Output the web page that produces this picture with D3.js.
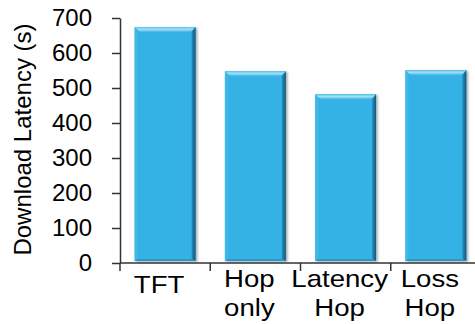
<!DOCTYPE html>
<html>
<head>
<meta charset="utf-8">
<script src="https://cdn.jsdelivr.net/npm/d3@7/dist/d3.min.js"></script>
<style>
  html, body { margin: 0; padding: 0; background: #fff; }
  svg { display: block; }
  text { font-family: "Liberation Sans", Arial, sans-serif; fill: #000; }
</style>
</head>
<body>
<svg id="chart" width="475" height="324"></svg>
<script>
// Download latency per configuration
const categories = [["TFT"], ["Hop", "only"], ["Latency", "Hop"], ["Loss", "Hop"]];
const latency = [674, 548, 482, 551];
const yTicks = [0, 100, 200, 300, 400, 500, 600, 700];
const yTitle = "Download Latency (s)";

const W = 475, H = 324;
const margin = { left: 120, top: 18, bottom: 61 };
const plotRight = 481;

const svg = d3.select("#chart");
const keys = categories.map(c => c.join(" "));

const x = d3.scaleBand()
  .domain(keys)
  .range([margin.left, plotRight])
  .paddingInner(0.325)
  .paddingOuter(0.1625);

const y = d3.scaleLinear()
  .domain([0, 700])
  .range([H - margin.bottom, margin.top]);

// Gradients and shadow used by the bevelled bars
const defs = svg.append("defs");
const topGrad = defs.append("linearGradient").attr("id", "bevelTop").attr("x1", 0).attr("y1", 0).attr("x2", 0).attr("y2", 1);
topGrad.append("stop").attr("offset", "0%").attr("stop-color", "#5cc4ec");
topGrad.append("stop").attr("offset", "45%").attr("stop-color", "#a3def5");
topGrad.append("stop").attr("offset", "100%").attr("stop-color", "#3db5e6");
const rightGrad = defs.append("linearGradient").attr("id", "bevelRight").attr("x1", 0).attr("y1", 0).attr("x2", 1).attr("y2", 0);
rightGrad.append("stop").attr("offset", "0%").attr("stop-color", "#2690c0");
rightGrad.append("stop").attr("offset", "100%").attr("stop-color", "#15577a");
const shadow = defs.append("filter").attr("id", "barShadow").attr("x", "-20%").attr("y", "-20%").attr("width", "140%").attr("height", "140%");
shadow.append("feDropShadow").attr("dx", 1.5).attr("dy", 1).attr("stdDeviation", 1.2).attr("flood-color", "#000").attr("flood-opacity", 0.35);

// Bars
const bevel = 5;
const bars = svg.append("g").attr("class", "bars")
  .selectAll("g").data(latency).join("g")
  .attr("filter", "url(#barShadow)");

bars.each(function (v, i) {
  const g = d3.select(this);
  const x0 = x(keys[i]), x1 = x0 + x.bandwidth();
  const y0 = y(v), y1 = y(0) - 2;
  g.append("rect").attr("x", x0).attr("y", y0).attr("width", x1 - x0).attr("height", y1 - y0).attr("fill", "#36b2e5");
  // top bevel
  g.append("polygon").attr("fill", "url(#bevelTop)")
    .attr("points", [[x0, y0], [x1, y0], [x1 - bevel, y0 + bevel], [x0 + bevel, y0 + bevel]].join(" "));
  // left bevel
  g.append("polygon").attr("fill", "#40b9e9")
    .attr("points", [[x0, y0], [x0 + bevel * 0.6, y0 + bevel], [x0 + bevel * 0.6, y1 - 2], [x0, y1]].join(" "));
  // right bevel
  g.append("polygon").attr("fill", "url(#bevelRight)")
    .attr("points", [[x1, y0], [x1, y1], [x1 - bevel * 0.8, y1 - 2], [x1 - bevel * 0.8, y0 + bevel]].join(" "));
  // bottom bevel
  g.append("polygon").attr("fill", "#2a98c9")
    .attr("points", [[x0, y1], [x1, y1], [x1 - bevel * 0.8, y1 - 2], [x0 + bevel * 0.6, y1 - 2]].join(" "));
});

// Y axis
const yAxis = svg.append("g")
  .attr("transform", `translate(${margin.left},0)`)
  .call(d3.axisLeft(y).tickValues(yTicks).tickSize(8).tickSizeOuter(0).tickPadding(20));
yAxis.select(".domain").attr("stroke", "#333").attr("stroke-width", 1.5);
yAxis.selectAll(".tick line").attr("stroke", "#333").attr("stroke-width", 1.5);
yAxis.selectAll(".tick text").attr("font-size", 24).attr("fill", "#000")
  .attr("font-family", "'Liberation Sans', Arial, sans-serif");

// X axis: line with ticks on category boundaries
const xAxis = svg.append("g").attr("class", "x-axis");
xAxis.append("line")
  .attr("x1", margin.left).attr("x2", plotRight)
  .attr("y1", y(0)).attr("y2", y(0))
  .attr("stroke", "#333").attr("stroke-width", 1.5);
const boundaries = keys.map(k => x(k) - x.step() * x.paddingInner() / 2);
xAxis.selectAll("line.tick").data(boundaries).join("line")
  .attr("class", "tick")
  .attr("x1", d => d).attr("x2", d => d)
  .attr("y1", y(0)).attr("y2", y(0) + 8)
  .attr("stroke", "#333").attr("stroke-width", 1.5);

// Category labels (wide face, set slightly left of the bar centre)
const labelShift = -6;
const labels = xAxis.selectAll("text.cat").data(categories).join("text")
  .attr("class", "cat")
  .attr("text-anchor", "middle")
  .attr("font-size", 24)
  .attr("transform", (d, i) =>
    `translate(${x(keys[i]) + x.bandwidth() / 2 + labelShift},${d.length === 1 ? y(0) + 30 : y(0) + 24}) scale(1.15,1)`);
labels.selectAll("tspan").data(d => d).join("tspan")
  .attr("x", 0)
  .attr("dy", (d, j) => j === 0 ? 0 : 29)
  .text(d => d);

// Y axis title
svg.append("text")
  .attr("text-anchor", "middle")
  .attr("font-size", 24)
  .attr("transform", `translate(31,${(y(0) + y(700)) / 2 - 1}) rotate(-90)`)
  .text(yTitle);
</script>
</body>
</html>
